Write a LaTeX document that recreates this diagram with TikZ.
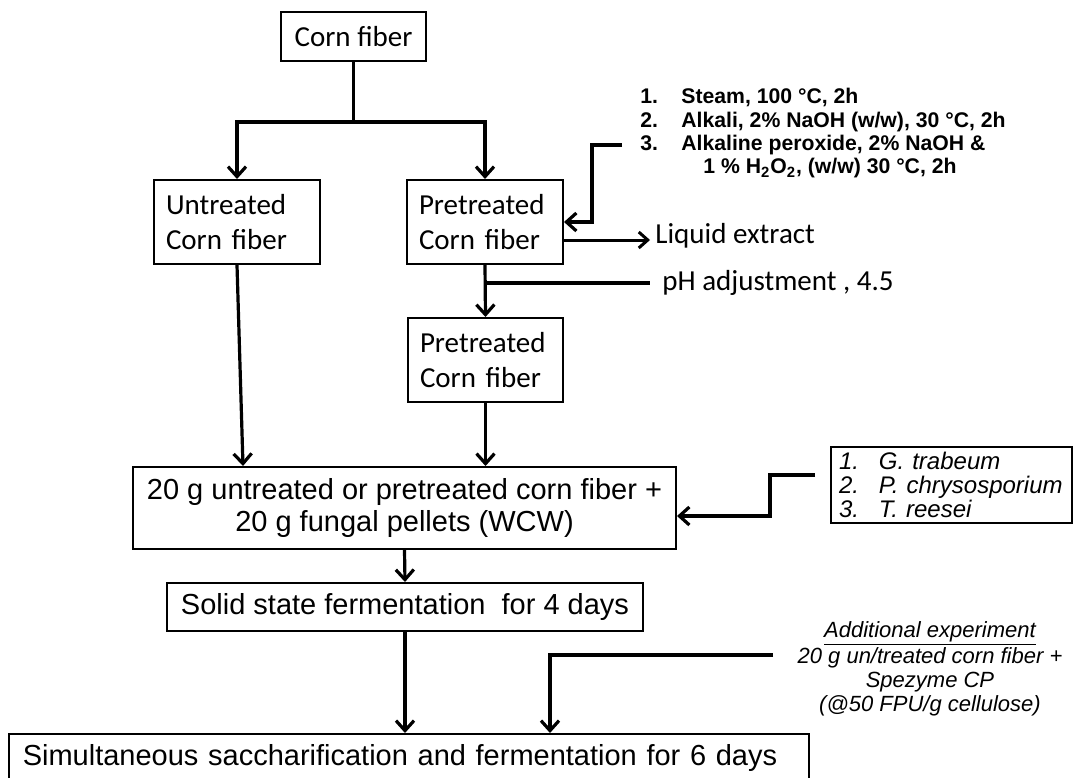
\documentclass[tikz,border=0pt]{standalone}
\usepackage{fontspec}
\setmainfont{Liberation Sans}
\newfontfamily\calib{Carlito}
\usetikzlibrary{arrows.meta}
\begin{document}
\begin{tikzpicture}[x=0.5pt,y=-0.5pt,
  box/.style={draw,line width=1pt,inner sep=0pt},
  cbox/.style={box,font=\calib\fontsize{14.5}{17.5}\selectfont,align=left,inner xsep=6pt},
  abox/.style={box,font=\fontsize{14.5}{16}\selectfont,align=center},
  conn/.style={line width=1.6pt},
  arr/.style={conn,-{Straight Barb[length=5pt,width=9pt]}},
  thinarr/.style={line width=1.5pt,-{Straight Barb[length=4.5pt,width=8pt]}},
  lbl/.style={inner sep=0pt,font=\calib\fontsize{14.5}{17.5}\selectfont}]
\useasboundingbox (0,0) rectangle (1077,777);

% boxes
\node[box,font=\calib\fontsize{14.5}{17.5}\selectfont,minimum width=72.5pt,minimum height=24.5pt] (cf) at (353.5,36.5) {Corn fiber};
\node[cbox,text width=71pt,minimum height=42pt] (un) at (237,222) {Untreated\\Corn fiber};
\node[cbox,text width=66pt,minimum height=42pt] (pt1) at (485,222) {Pretreated\\Corn fiber};
\node[cbox,text width=65.5pt,minimum height=42pt] (pt2) at (485.5,360) {Pretreated\\Corn fiber};
\node[abox,minimum width=271.5pt,minimum height=41pt] (mix) at (404.5,508) {20 g untreated or pretreated corn fiber +\\20 g fungal pellets (WCW)};
\node[abox,minimum width=238pt,minimum height=24pt] (ssf) at (405,607) {Solid state fermentation\ \ for 4 days};
\node[draw,line width=0.8pt,anchor=north west,inner xsep=7pt,inner ysep=0pt,align=left,text width=386pt,text height=16pt,text depth=30pt,font=\fontsize{14.5}{16}\selectfont] (sim) at (8,733) {Simultaneous saccharification and fermentation for 6 days};

% side texts
\node[anchor=north west,inner sep=0pt,align=left,font=\bfseries\fontsize{10.6}{11.7}\selectfont] (treat) at (640,88)
  {\makebox[20.5pt][l]{1.}Steam, 100 °C, 2h\\
   \makebox[20.5pt][l]{2.}Alkali, 2\% NaOH (w/w), 30 °C, 2h\\
   \makebox[20.5pt][l]{3.}Alkaline peroxide, 2\% NaOH \&\\
   \hspace*{31.5pt}1 \% H\textsubscript{2}O\textsubscript{2}, (w/w) 30 °C, 2h};
\node[lbl,anchor=west] (liq) at (655,236) {Liquid extract};
\node[lbl,anchor=west] (ph) at (662,283) {pH adjustment , 4.5};
\node[draw,line width=0.75pt,inner ysep=0pt,inner xsep=4pt,align=left,text width=112.5pt,minimum height=38pt,font=\itshape\fontsize{12}{12}\selectfont] (fung) at (951.5,485)
  {\makebox[20pt][l]{1.}G. trabeum\\
   \makebox[20pt][l]{2.}P. chrysosporium\\
   \makebox[20pt][l]{3.}T. reesei};
\node[inner sep=0pt,align=center,font=\itshape\fontsize{11}{12}\selectfont] (add) at (930,669)
  {\underline{Additional experiment}\\20 g un/treated corn fiber +\\Spezyme CP\\(@50 FPU/g cellulose)};

% connectors
\coordinate (br) at (353.5,122);
\draw[conn] (cf.south) -- (br);
\draw[arr] (br) -| (un.north);
\draw[arr] (br) -| (pt1.north);

\coordinate (tb) at (622,145);
\draw[arr] (tb) -- (592,145) |- (pt1.east);
\draw[thinarr] ([yshift=-9pt]pt1.east) -- ([yshift=-9pt,xshift=-2.5pt]pt1.east -| liq.west);

\draw[arr] (pt1.south) -- (pt2.north);
\draw[conn] (pt1.south |- ph.west) -- ([xshift=-6pt]ph.west);

\draw[arr] (un.south) -- ([xshift=3pt]un.south |- mix.north);
\draw[arr] (pt2.south) -- (pt2.south |- mix.north);

\coordinate (fb) at (815,475);
\draw[arr] (fb) -- (770,475) |- ([yshift=-4pt]mix.east);

\draw[arr] (mix.south) -- (ssf.north);
\draw[arr] (ssf.south) -- (ssf.south |- sim.north);

\coordinate (ab) at (773,655);
\coordinate (ab2) at (550,655);
\draw[arr] (ab) -- (ab2) -- (ab2 |- sim.north);
\end{tikzpicture}
\end{document}
